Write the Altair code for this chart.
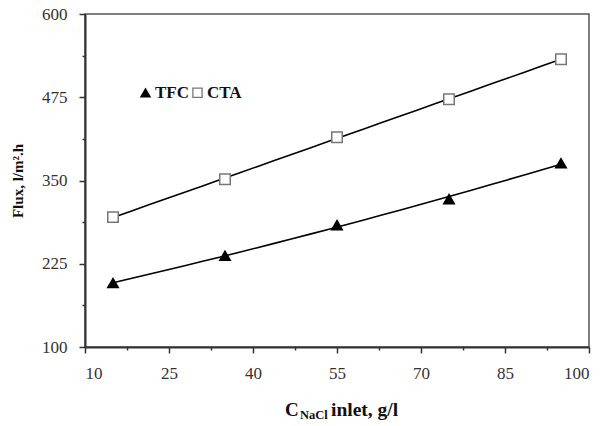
import altair as alt
import pandas as pd

conc = [15, 35, 55, 75, 95]
tfc_flux = [196, 237, 283, 322, 376]
cta_flux = [295, 352, 415, 472, 532]

x_major = [10, 25, 40, 55, 70, 85, 100]
x_minor = [17.5, 32.5, 47.5, 62.5, 77.5, 92.5]
y_major = [100, 225, 350, 475, 600]
y_minor = [162.5, 287.5, 412.5, 537.5]

df = pd.DataFrame({
    "conc": conc * 2,
    "flux": tfc_flux + cta_flux,
    "series": ["TFC"] * len(conc) + ["CTA"] * len(conc),
})

FONT = "Liberation Serif"
dom = ["TFC", "CTA"]

xenc = alt.X("conc:Q", scale=alt.Scale(domain=[10, 100], nice=False),
             axis=alt.Axis(values=sorted(x_major + x_minor), title=None,
                           labelExpr="(datum.value - 10) % 15 == 0 ? datum.label : ''",
                           tickSize={"condition": {"test": "(datum.value - 10) % 15 == 0", "value": 6}, "value": 3},
                           labelPadding=12))
yenc = alt.Y("flux:Q", scale=alt.Scale(domain=[100, 600], nice=False),
             axis=alt.Axis(values=sorted(y_major + y_minor), title="Flux, l/m².h",
                           labelExpr="(datum.value - 100) % 125 == 0 ? datum.label : ''",
                           tickSize={"condition": {"test": "(datum.value - 100) % 125 == 0", "value": 6}, "value": 3},
                           labelPadding=12, titlePadding=16, titleFontSize=15))

lines = alt.Chart(df).transform_regression(
    "conc", "flux", method="poly", order=2, groupby=["series"]
).mark_line(color="black", strokeWidth=1.6).encode(x=xenc, y=yenc, detail="series:N")

legend = alt.Legend(title=None, orient="none", direction="horizontal", legendX=52, legendY=70,
                    labelFont=FONT, labelFontSize=17, labelFontWeight="bold", labelColor="#111",
                    symbolSize=85, labelOffset=1, columnPadding=0, symbolStrokeWidth=1.3)

points = alt.Chart(df).mark_point(size=110, strokeWidth=1.5, opacity=1).encode(
    x=xenc, y=yenc,
    shape=alt.Shape("series:N", scale=alt.Scale(domain=dom, range=["triangle-up", "square"]), legend=legend),
    fill=alt.Fill("series:N", scale=alt.Scale(domain=dom, range=["black", "white"]), legend=legend),
    stroke=alt.Stroke("series:N", scale=alt.Scale(domain=dom, range=["black", "#777777"]), legend=legend),
)

t_c = alt.Chart(pd.DataFrame({"t": ["C"]})).mark_text(
    font=FONT, fontSize=19, fontWeight="bold", align="left", baseline="alphabetic", color="#111"
).encode(text="t:N", x=alt.value(200), y=alt.value(402))
t_sub = alt.Chart(pd.DataFrame({"t": ["NaCl"]})).mark_text(
    font=FONT, fontSize=12.5, fontWeight="bold", align="left", baseline="alphabetic", color="#111"
).encode(text="t:N", x=alt.value(215), y=alt.value(405))
t_rest = alt.Chart(pd.DataFrame({"t": ["inlet, g/l"]})).mark_text(
    font=FONT, fontSize=19.5, fontWeight="bold", align="left", baseline="alphabetic", color="#111"
).encode(text="t:N", x=alt.value(246), y=alt.value(402))

chart = alt.layer(lines, points, t_c, t_sub, t_rest).properties(
    width=504, height=333,
    background="white",
    autosize=alt.AutoSizeParams(type="none"),
    padding={"left": 85, "top": 14, "right": 16, "bottom": 79},
).configure_view(stroke="#555555", strokeWidth=1.5).configure_axis(
    grid=False, domainColor="#333333", domainWidth=2, tickColor="#333333", tickWidth=1.5,
    labelFont=FONT, labelFontSize=17, labelColor="#333333",
    titleFont=FONT, titleFontSize=17, titleFontWeight="bold", titleColor="#111111",
)

chart.save("out.html", embed_options={"renderer": "svg", "actions": False})
